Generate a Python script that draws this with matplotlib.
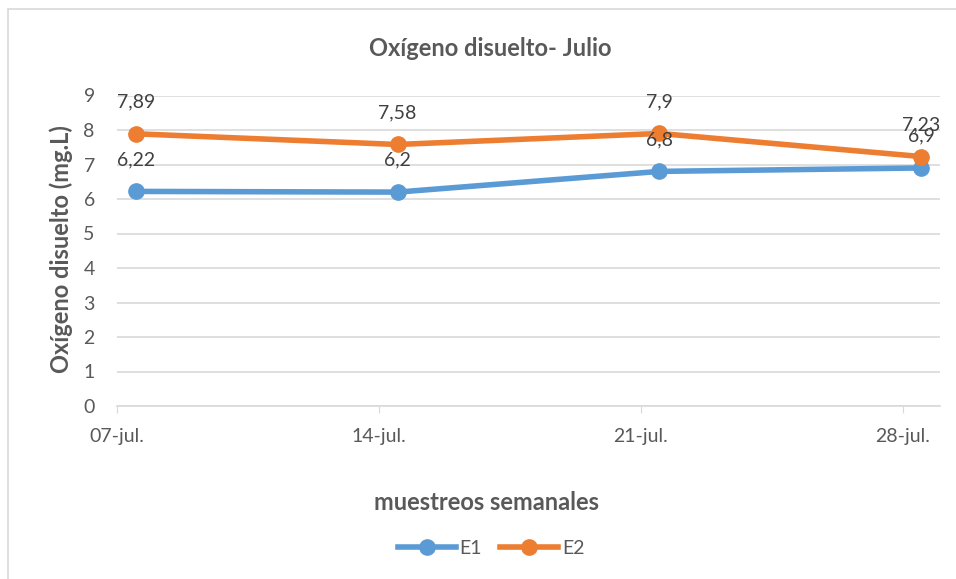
import matplotlib
matplotlib.use("Agg")
import matplotlib.pyplot as plt
from matplotlib.patches import Rectangle
from matplotlib.lines import Line2D

plt.rcParams['font.family'] = ['Lato', 'DejaVu Sans']

# Sampling days in July and dissolved oxygen values
days = [7, 14, 21, 28]
day_labels = ["07-jul.", "14-jul.", "21-jul.", "28-jul."]
e1 = [6.22, 6.2, 6.8, 6.9]
e2 = [7.89, 7.58, 7.9, 7.23]
e1_labels = ["6,22", "6,2", "6,8", "6,9"]
e2_labels = ["7,89", "7,58", "7,9", "7,23"]

W, H = 956, 579
fig = plt.figure(figsize=(W / 100, H / 100), dpi=100)
fig.patch.set_facecolor("white")

# chart frame
fig.patches.append(Rectangle((8 / W, -0.1), 1.2, 1 - 9.5 / H + 0.1,
                             transform=fig.transFigure, fill=False,
                             edgecolor="#D9D9D9", linewidth=1.2))

ax = fig.add_axes([117 / W, 1 - 406 / H, (940 - 117) / W, (406 - 95.5) / H])
# date axis: one slot per day, ticks at the start of each week, points at the slot centre
ax.set_xlim(7, 29)
ax.set_ylim(0, 9)

grey = "#595959"
c1 = "#5B9BD5"
c2 = "#ED7D31"

ax.set_yticks(range(0, 10))
ax.yaxis.grid(True, color="#D9D9D9", linewidth=1.2)
ax.set_axisbelow(True)
ax.set_xticks(days)
ax.set_xticklabels(day_labels)
ax.tick_params(axis="y", length=0, pad=16, labelsize=14, labelcolor=grey)
ax.tick_params(axis="x", length=5, color="#D9D9D9", pad=11, labelsize=14,
               labelcolor=grey)
for s in ["top", "right", "left"]:
    ax.spines[s].set_visible(False)
ax.spines["bottom"].set_color("#D9D9D9")
ax.spines["bottom"].set_linewidth(1.2)

xpos = [d + 0.5 for d in days]
ax.plot(xpos, e1, color=c1, linewidth=4, marker="o", markersize=11,
        solid_capstyle="round", zorder=3, clip_on=False)
ax.plot(xpos, e2, color=c2, linewidth=4, marker="o", markersize=11,
        solid_capstyle="round", zorder=3, clip_on=False)

for x, y, t in zip(xpos, e1, e1_labels):
    ax.annotate(t, (x, y), xytext=(0, 23), textcoords="offset points",
                ha="center", va="center", fontsize=14, color="#404040")
for x, y, t in zip(xpos, e2, e2_labels):
    ax.annotate(t, (x, y), xytext=(0, 23), textcoords="offset points",
                ha="center", va="center", fontsize=14, color="#404040")

fig.text(490 / W, 1 - 49 / H, "Oxígeno disuelto- Julio", ha="center",
         va="center", fontsize=17, fontweight="bold", color=grey)
fig.text(486 / W, 1 - 502 / H, "muestreos semanales", ha="center",
         va="center", fontsize=17, fontweight="bold", color=grey)
fig.text(61 / W, 1 - 249 / H, "Oxígeno disuelto (mg.L)", ha="center",
         va="center", rotation=90, fontsize=17, fontweight="bold", color=grey)

handles = [Line2D([], [], color=c1, linewidth=4, marker="o", markersize=11),
           Line2D([], [], color=c2, linewidth=4, marker="o", markersize=11)]
leg = fig.legend(handles, ["E1", "E2"], loc="center", ncol=2,
                 bbox_to_anchor=(491 / W, 1 - 548 / H), frameon=False,
                 fontsize=14, handlelength=3.0, handletextpad=0.2,
                 columnspacing=0.9)
for t in leg.get_texts():
    t.set_color(grey)

fig.savefig("out.png", dpi=100)
